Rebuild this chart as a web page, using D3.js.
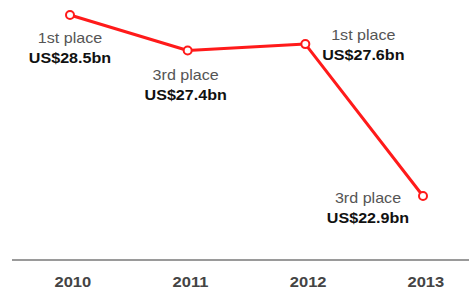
<!DOCTYPE html>
<html><head><meta charset="utf-8">
<script src="https://cdn.jsdelivr.net/npm/d3@7"></script>
<style>html,body{margin:0;padding:0;background:#fff;}svg{display:block;}</style>
</head><body>
<script>
const years = ["2010","2011","2012","2013"];
const values = [28.5, 27.4, 27.6, 22.9];
const places = ["1st place","3rd place","1st place","3rd place"];
const valueLabels = ["US$28.5bn","US$27.4bn","US$27.6bn","US$22.9bn"];

// label layout offsets (relative to point): dx, dy of first line
const labelLayout = [[0,28],[-2,29],[58,-4],[-55,7]];

const W = 469, H = 293;
const svg = d3.select("body").append("svg").attr("width", W).attr("height", H);

const x = d3.scalePoint().domain(years).range([70, 423]);
const y = d3.scaleLinear().domain([20.92, 28.5]).range([260, 15]);

// baseline axis
const axis = d3.axisBottom(x).tickSize(0).tickPadding(17);
const gx = svg.append("g").attr("transform", `translate(0,${y(20.92)})`).call(axis);
gx.select(".domain").remove();
gx.append("line").attr("x1", 12).attr("x2", W).attr("y1", 0).attr("y2", 0)
  .attr("stroke", "#9a9a9a").attr("stroke-width", 2);
gx.selectAll(".tick text")
  .attr("font-family", "Liberation Sans, Arial, sans-serif")
  .attr("font-size", 14).attr("font-weight", "bold").attr("fill", "#444")
  .attr("x", 2).attr("transform", "scale(1.18,1)");

const data = years.map((yr, i) => ({year: yr, value: values[i], place: places[i], label: valueLabels[i], off: labelLayout[i]}));

svg.append("path").datum(data)
  .attr("fill", "none").attr("stroke", "#ff1a1a").attr("stroke-width", 3)
  .attr("stroke-linejoin", "round")
  .attr("d", d3.line().x(d => x(d.year)).y(d => y(d.value)));

svg.selectAll("circle.pt").data(data).join("circle")
  .attr("class", "pt")
  .attr("cx", d => x(d.year)).attr("cy", d => y(d.value))
  .attr("r", 4).attr("fill", "#fff").attr("stroke", "#ff1a1a").attr("stroke-width", 2);

const lab = svg.selectAll("g.lab").data(data).join("g").attr("class", "lab")
  .attr("transform", d => `translate(${x(d.year) + d.off[0]},${y(d.value) + d.off[1]}) scale(1.15,1)`);
lab.append("text").attr("text-anchor", "middle")
  .attr("font-family", "Liberation Sans, Arial, sans-serif").attr("font-size", 14)
  .attr("fill", "#555").text(d => d.place);
lab.append("text").attr("text-anchor", "middle").attr("y", 20)
  .attr("font-family", "Liberation Sans, Arial, sans-serif").attr("font-size", 14)
  .attr("font-weight", "bold").attr("fill", "#111").text(d => d.label);
</script>
</body></html>
